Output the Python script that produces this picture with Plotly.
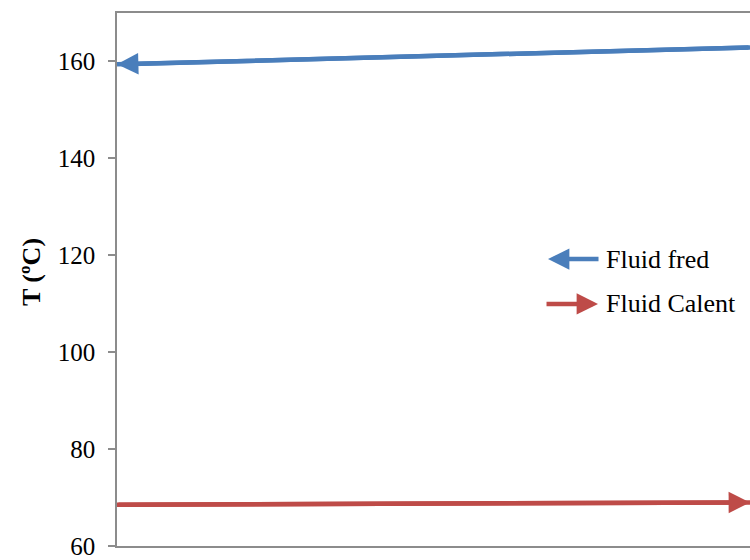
import plotly.graph_objects as go

# Temperature profile of the two fluids along the exchanger
posicio = [0.0, 1.0]
t_fred = [159.4, 162.9]
t_calent = [68.5, 69.0]
noms = ["Fluid fred", "Fluid Calent"]
y_ticks = [60, 80, 100, 120, 140, 160]

BLUE = "#4A7EBB"
RED = "#BE4B48"
AXIS = "#8C8C8C"
FONT = "Liberation Serif"

fig = go.Figure()
fig.add_trace(go.Scatter(x=posicio, y=t_fred, mode="lines", name=noms[0],
                         line=dict(color=BLUE, width=4.5), showlegend=False))
fig.add_trace(go.Scatter(x=posicio, y=t_calent, mode="lines", name=noms[1],
                         line=dict(color=RED, width=4.5), showlegend=False))

head = dict(showarrow=True, arrowhead=2, arrowsize=0.95, arrowwidth=4.5,
            standoff=0, text="")

# Cold fluid flows right-to-left, hot fluid left-to-right
fig.add_annotation(x=posicio[0], y=t_fred[0], ax=posicio[1], ay=t_fred[1],
                   xref="x", yref="y", axref="x", ayref="y",
                   arrowcolor=BLUE, **head)
fig.add_annotation(x=posicio[1], y=t_calent[1], ax=posicio[0], ay=t_calent[0],
                   xref="x", yref="y", axref="x", ayref="y",
                   arrowcolor=RED, **head)

# Legend drawn by hand so the keys carry arrowheads
fig.add_annotation(x=0.6809, y=0.5383, xref="paper", yref="paper",
                   ax=52, ay=0, arrowcolor=BLUE, **head)
fig.add_annotation(x=0.7599, y=0.4542, xref="paper", yref="paper",
                   ax=-53, ay=0, arrowcolor=RED, **head)
for name, yp in zip(noms, [0.5383, 0.4542]):
    fig.add_annotation(x=0.7694, y=yp, xref="paper", yref="paper",
                       text=name, showarrow=False, xanchor="left",
                       yanchor="middle",
                       font=dict(family=FONT, size=26, color="black"))

# Axis title
fig.add_annotation(x=-0.1359, y=0.514, xref="paper", yref="paper",
                   text="<b>T (ºC)</b>", showarrow=False, textangle=-90,
                   xanchor="center", yanchor="middle",
                   font=dict(family=FONT, size=26, color="black"))

fig.update_layout(
    width=750, height=560,
    margin=dict(l=117, r=0, t=13, b=12),
    plot_bgcolor="white", paper_bgcolor="white",
    xaxis=dict(range=[0, 1], showgrid=False, zeroline=False,
               showticklabels=False, ticks="", showline=True,
               linecolor=AXIS, linewidth=1.5, mirror=True),
    yaxis=dict(range=[60, 170], tickvals=y_ticks, showgrid=False,
               zeroline=False, ticks="outside", ticklen=7,
               tickcolor=AXIS, tickwidth=1.5, showline=True,
               linecolor=AXIS, linewidth=1.5,
               ticklabelstandoff=8, ticklabeloverflow="allow",
               tickfont=dict(family=FONT, size=25, color="black")),
)

fig.write_html("out.html")
